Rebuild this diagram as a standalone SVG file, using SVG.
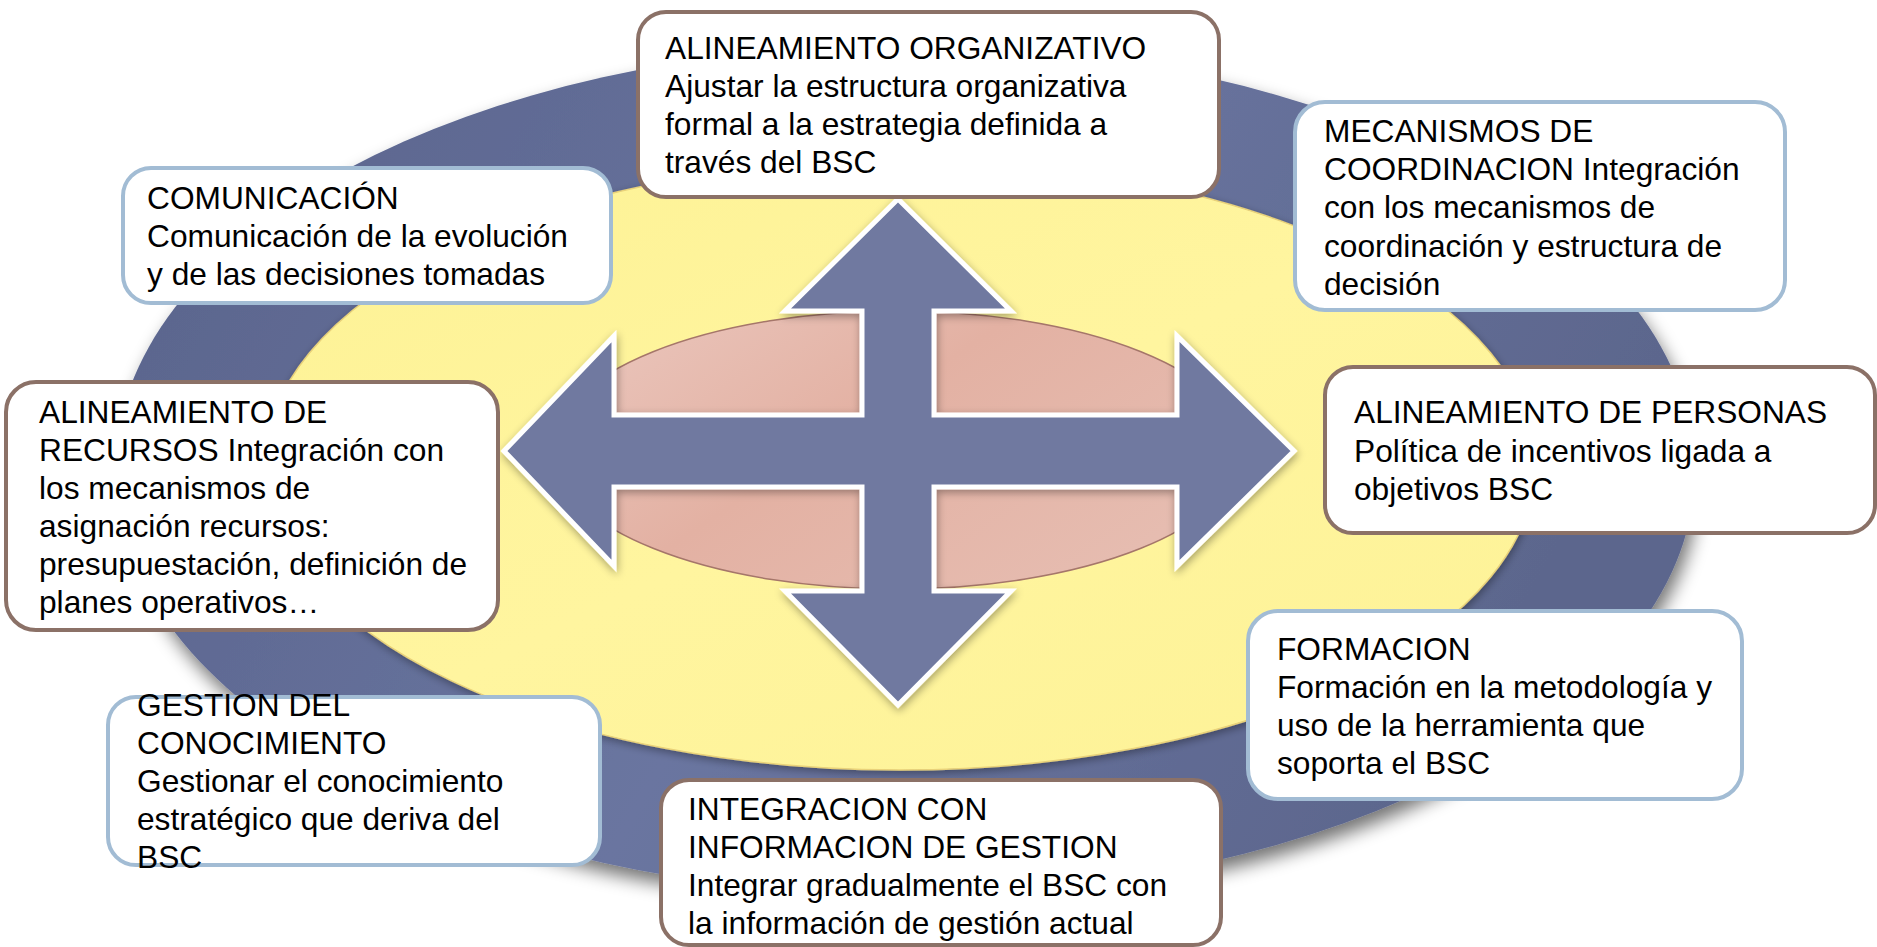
<svg xmlns="http://www.w3.org/2000/svg" width="1877" height="947" viewBox="0 0 1877 947">
<defs>
<linearGradient id="gOuter" x1="0" y1="0" x2="1" y2="0.3">
<stop offset="0" stop-color="#58628a"/>
<stop offset="0.55" stop-color="#6a75a0"/>
<stop offset="1" stop-color="#5c668d"/>
</linearGradient>
<linearGradient id="gYellow" x1="0" y1="0" x2="1" y2="1">
<stop offset="0" stop-color="#fdf295"/>
<stop offset="0.5" stop-color="#fff59f"/>
<stop offset="1" stop-color="#fdf296"/>
</linearGradient>
<linearGradient id="gPink" x1="0" y1="0" x2="1" y2="0.6">
<stop offset="0" stop-color="#ebc8bf"/>
<stop offset="0.5" stop-color="#e3b1a3"/>
<stop offset="1" stop-color="#e6bcb0"/>
</linearGradient>
<filter id="shOuter" x="-10%" y="-10%" width="120%" height="130%">
<feGaussianBlur in="SourceAlpha" stdDeviation="9"/>
<feOffset dx="4" dy="10" result="b"/>
<feComponentTransfer><feFuncA type="linear" slope="0.55"/></feComponentTransfer>
<feMerge><feMergeNode/><feMergeNode in="SourceGraphic"/></feMerge>
</filter>
<filter id="shSoft" x="-10%" y="-10%" width="120%" height="130%">
<feGaussianBlur in="SourceAlpha" stdDeviation="4"/>
<feOffset dx="1" dy="3" result="b"/>
<feComponentTransfer><feFuncA type="linear" slope="0.35"/></feComponentTransfer>
<feMerge><feMergeNode/><feMergeNode in="SourceGraphic"/></feMerge>
</filter>
<style>
.box{fill:#ffffff;stroke-width:4}
.brown{stroke:#8b7167}
.blue{stroke:#a2bcd4}
.t{font-family:"Liberation Sans",Arial,sans-serif;font-size:31.7px;fill:#000000}
</style>
</defs>
<rect width="1877" height="947" fill="#ffffff"/>
<g id="background">
<ellipse cx="905" cy="470" rx="790" ry="425" fill="url(#gOuter)" filter="url(#shOuter)"/>
<ellipse cx="900" cy="465" rx="635" ry="305" fill="url(#gYellow)" stroke="#e9d27a" stroke-width="1.5" filter="url(#shSoft)"/>
<ellipse cx="897" cy="450" rx="345" ry="139" fill="url(#gPink)" stroke="#a5766a" stroke-width="1.5"/>
</g>
<g id="connectors">
<path d="M898,199 L1011,311 L934,311 L934,415 L1177,415 L1177,336 L1294,451 L1177,566 L1177,487 L934,487 L934,591 L1011,591 L898,705 L785,591 L862,591 L862,487 L614,487 L614,566 L504,451 L614,336 L614,415 L862,415 L862,311 L785,311 Z" fill="#6f79a0" stroke="#ffffff" stroke-width="5" stroke-linejoin="miter" filter="url(#shSoft)"/>
</g>
<g id="n-organizativo">
<rect class="box brown" x="638" y="12" width="581" height="185" rx="28"/>
<text class="t" x="665" y="59">ALINEAMIENTO ORGANIZATIVO</text>
<text class="t" x="665" y="97">Ajustar la estructura organizativa</text>
<text class="t" x="665" y="135">formal a la estrategia definida a</text>
<text class="t" x="665" y="173">través del BSC</text>
</g>
<g id="n-comunicacion">
<rect class="box blue" x="123" y="168" width="488" height="135" rx="28"/>
<text class="t" x="147" y="209">COMUNICACIÓN</text>
<text class="t" x="147" y="247">Comunicación de la evolución</text>
<text class="t" x="147" y="285">y de las decisiones tomadas</text>
</g>
<g id="n-recursos">
<rect class="box brown" x="6" y="382" width="492" height="248" rx="30"/>
<text class="t" x="39" y="423">ALINEAMIENTO DE</text>
<text class="t" x="39" y="461">RECURSOS Integración con</text>
<text class="t" x="39" y="499">los mecanismos de</text>
<text class="t" x="39" y="537">asignación recursos:</text>
<text class="t" x="39" y="575">presupuestación, definición de</text>
<text class="t" x="39" y="613">planes operativos…</text>
</g>
<g id="n-conocimiento">
<rect class="box blue" x="108" y="697" width="492" height="168" rx="28"/>
<text class="t" x="137" y="716">GESTION DEL</text>
<text class="t" x="137" y="754">CONOCIMIENTO</text>
<text class="t" x="137" y="792">Gestionar el conocimiento</text>
<text class="t" x="137" y="830">estratégico que deriva del</text>
<text class="t" x="137" y="868">BSC</text>
</g>
<g id="n-integracion">
<rect class="box brown" x="661" y="780" width="560" height="165" rx="28"/>
<text class="t" x="688" y="820">INTEGRACION CON</text>
<text class="t" x="688" y="858">INFORMACION DE GESTION</text>
<text class="t" x="688" y="896">Integrar gradualmente el BSC con</text>
<text class="t" x="688" y="934">la información de gestión actual</text>
</g>
<g id="n-mecanismos">
<rect class="box blue" x="1295" y="102" width="490" height="208" rx="30"/>
<text class="t" x="1324" y="142">MECANISMOS DE</text>
<text class="t" x="1324" y="180">COORDINACION Integración</text>
<text class="t" x="1324" y="218">con los mecanismos de</text>
<text class="t" x="1324" y="257">coordinación y estructura de</text>
<text class="t" x="1324" y="295">decisión</text>
</g>
<g id="n-personas">
<rect class="box brown" x="1325" y="367" width="550" height="166" rx="28"/>
<text class="t" x="1354" y="423">ALINEAMIENTO DE PERSONAS</text>
<text class="t" x="1354" y="462">Política de incentivos ligada a</text>
<text class="t" x="1354" y="500">objetivos BSC</text>
</g>
<g id="n-formacion">
<rect class="box blue" x="1248" y="611" width="494" height="188" rx="30"/>
<text class="t" x="1277" y="660">FORMACION</text>
<text class="t" x="1277" y="698">Formación en la metodología y</text>
<text class="t" x="1277" y="736">uso de la herramienta que</text>
<text class="t" x="1277" y="774">soporta el BSC</text>
</g>
</svg>
